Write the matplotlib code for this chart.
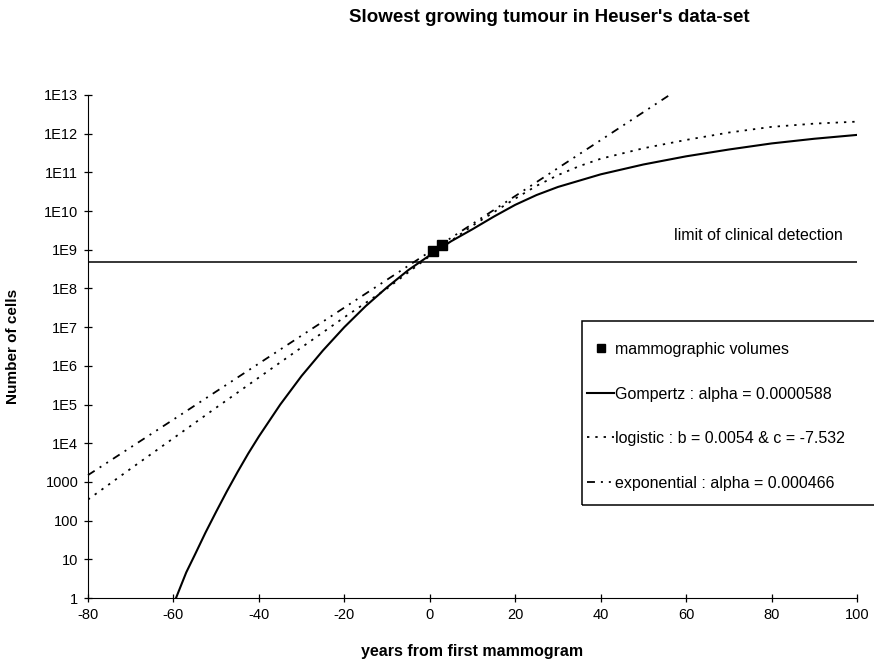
import numpy as np
import matplotlib.pyplot as plt
from matplotlib.patches import Rectangle

plt.rcParams['font.family'] = ['Liberation Sans', 'DejaVu Sans']
plt.rcParams['axes.unicode_minus'] = False

# values (years, number of cells)
mammo_years = [0.7, 2.9]
mammo_cells = [9.3e8, 1.3e9]

gomp_years = [-59.4, -57, -55, -52.5, -50, -47.5, -45, -42.5, -40, -35, -30,
              -25, -20, -15, -10, -5, 0, 5, 10, 15, 20, 25, 30, 40, 50, 60,
              70, 80, 90, 100]
gomp_cells = [1.0, 4.6, 1.3e1, 4.9e1, 1.7e2, 5.7e2, 1.8e3, 5.4e3, 1.5e4,
              1.0e5, 5.5e5, 2.5e6, 1.0e7, 3.5e7, 1.07e8, 3.0e8, 7.2e8, 1.66e9,
              3.4e9, 7.2e9, 1.45e10, 2.6e10, 4.2e10, 8.9e10, 1.6e11, 2.6e11,
              3.9e11, 5.6e11, 7.4e11, 9.3e11]

logi_years = [-80, -70, -60, -50, -40, -30, -20, -10, 0, 10, 20, 25, 30,
              35, 40, 50, 60, 70, 80, 90, 100]
logi_cells = [3.5e2, 2.2e3, 1.35e4, 8.3e4, 5.0e5, 3.0e6, 1.8e7, 1.0e8,
              6.9e8, 4.2e9, 2.1e10, 4.5e10, 8.5e10, 1.45e11, 2.25e11,
              4.2e11, 6.9e11, 1.07e12, 1.5e12, 1.82e12, 2.05e12]

expo_years = [-80, -60, -40, -20, 0, 20, 40, 56.7]
expo_cells = [1.5e3, 4.1e4, 1.15e6, 3.2e7, 8.9e8, 2.45e10, 6.8e11, 1.1e13]

detect_limit = 4.8e8

ytick_vals = [10.0 ** k for k in range(14)]
ytick_labels = ['1', '10', '100', '1000'] + ['1E%d' % k for k in range(4, 14)]
xtick_vals = list(range(-80, 101, 20))

fig = plt.figure(figsize=(8.74, 6.61), dpi=100)
ax = fig.add_axes([88 / 874, 1 - 598 / 661, (857 - 88) / 874, (598 - 95) / 661])

ax.axhline(detect_limit, color='black', lw=1.1)
h_mammo, = ax.plot(mammo_years, mammo_cells, 's', color='black', ms=6.5,
                   label='mammographic volumes', zorder=5)
h_gomp, = ax.plot(gomp_years, gomp_cells, '-', color='black', lw=1.5,
                  label='Gompertz : alpha = 0.0000588')
h_logi, = ax.plot(logi_years, logi_cells, color='black', lw=1.3,
                  ls=(0, (1.3, 3.3)), label='logistic : b = 0.0054 & c = -7.532')
h_expo, = ax.plot(expo_years, expo_cells, color='black', lw=1.3,
                  ls=(0, (4.4, 3.3, 1.1, 3.3, 1.1, 3.3)),
                  label='exponential : alpha = 0.000466', clip_on=False)

ax.set_yscale('log')
ax.set_xlim(-80, 100)
ax.set_ylim(1, 1e13)
ax.set_yticks(ytick_vals)
ax.set_yticklabels(ytick_labels)
ax.minorticks_off()
ax.set_xticks(xtick_vals)

for side in ['top', 'right']:
    ax.spines[side].set_visible(False)
ax.tick_params(direction='inout', length=6, width=0.9, labelsize=10.5, pad=4)

ax.set_xlabel('years from first mammogram', fontsize=11.5, fontweight='bold')
ax.xaxis.set_label_coords(0.5, -0.092)
ax.set_ylabel('Number of cells', fontsize=11, fontweight='bold')
ax.yaxis.set_label_coords(-0.088, 0.5)

ax.text(76.8, 10 ** 9.36, 'limit of clinical detection', fontsize=11.5,
        ha='center', va='center')

fig.text(0.628, 0.973, "Slowest growing tumour in Heuser's data-set",
         fontsize=13.5, fontweight='bold', ha='center', va='center')

# legend box runs off the right edge of the picture
box = Rectangle((582 / 874, 1 - 505 / 661), 0.4, (505 - 321) / 661,
                transform=fig.transFigure, fill=False, edgecolor='black',
                lw=1.1, clip_on=False)
fig.patches.append(box)

fig.legend(handles=[h_mammo, h_gomp, h_logi, h_expo], loc='upper left',
           bbox_to_anchor=(579 / 874, 1 - 334 / 661), frameon=False,
           fontsize=11.5, borderpad=0, labelspacing=1.85, handlelength=1.7,
           handletextpad=0.08, markerscale=0.9)

fig.savefig('out.png', dpi=100)
